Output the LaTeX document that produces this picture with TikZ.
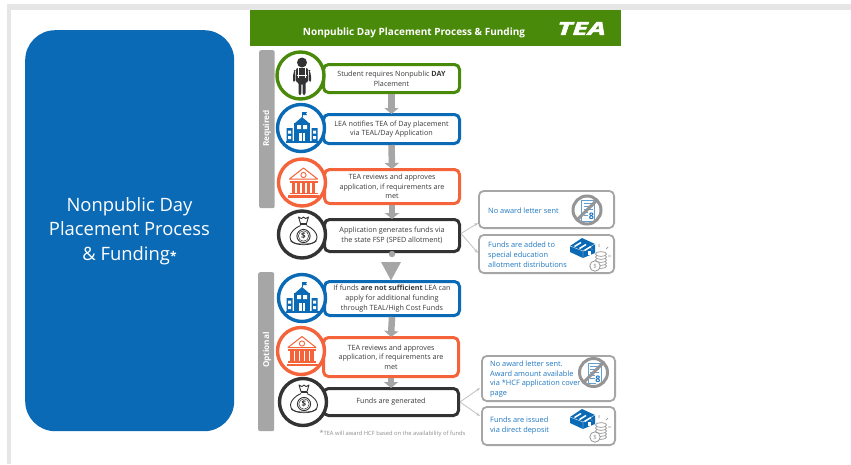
\documentclass[tikz,border=0pt]{standalone}
\usepackage{fontspec}
\setmainfont{Open Sans}
\newfontfamily\logofont[BoldItalicFeatures={FakeBold=2}]{Open Sans}
\usetikzlibrary{calc,arrows.meta}
\definecolor{cgreen}{HTML}{4A8A0B}
\definecolor{cblue}{HTML}{0B6AB6}
\definecolor{corange}{HTML}{F4633A}
\definecolor{cblack}{HTML}{333333}
\definecolor{cgray}{HTML}{A6A6A6}
\definecolor{cdark}{HTML}{959595}
\definecolor{ctext}{HTML}{3A3A3A}
\definecolor{cside}{HTML}{1F78C1}
\definecolor{cstrip}{HTML}{E6E6E6}
\tikzset{
  stepbox/.style={draw=#1,line width=3pt,fill=white,rounded corners=5pt,inner sep=0pt,anchor=north west,
    text=ctext,font=\fontsize{7.2}{9.7}\selectfont,align=center},
  ring/.style={draw=#1,line width=3.4pt,fill=white,circle,minimum size=47pt,inner sep=0pt},
  sidebox/.style={draw=cgray,line width=1.8pt,fill=white,rounded corners=5pt,inner sep=0pt,anchor=north west},
  sidetext/.style={text=cside,font=\fontsize{7.4}{9.8}\selectfont,align=left,anchor=west,inner sep=0pt},
  bar/.style={fill=cgray,rounded corners=2pt,inner sep=0pt,anchor=north west},
  vlabel/.style={text=white,font=\bfseries\fontsize{8.2}{10}\selectfont,rotate=90,inner sep=0pt},
  flow/.style={draw=cgray,line width=6.5pt,-{Triangle[length=6pt,width=14pt]},shorten >=-1pt},
  fork/.style={draw=cgray!70,line width=.8pt,-{Stealth[length=4pt,width=3pt]}}
}
\newcommand{\iconperson}[1]{\begin{scope}[shift={#1}]
 \fill[cblack] (0,-13.5) circle (5);
 \fill[cblack,rounded corners=2pt] (-6,-8) -- (6,-8) -- (6.5,6) -- (3.5,6) -- (3.5,19) -- (.6,19) -- (.6,7) -- (-.6,7) -- (-.6,19) -- (-3.5,19) -- (-3.5,6) -- (-6.5,6) -- cycle;
 \fill[cblack,rounded corners=1.5pt] (-7.5,-6) -- (-9,-1) -- (-9,6) -- (-7,6) -- (-7,-6) -- cycle;
 \fill[cblack,rounded corners=1.5pt] (7.5,-6) -- (9,-1) -- (9,6) -- (7,6) -- (7,-6) -- cycle;
 \draw[white,line width=.6pt] (-3.5,-8) -- (-3.5,2) (3.5,-8) -- (3.5,2) (-5,-1) -- (5,-1);
\end{scope}}
\newcommand{\iconschool}[1]{\begin{scope}[shift={#1}]
 \draw[cblue,line width=.9pt] (0,-16) -- (0,-11);
 \fill[cblue] (0,-16) -- (5,-16) -- (4,-14.5) -- (5,-13) -- (0,-13) -- cycle;
 \fill[cblue] (-7,-5) -- (0,-11) -- (7,-5) -- cycle;
 \fill[cblue] (-8,-5) rectangle (8,13);
 \fill[white] (-3,5) rectangle (3,13);
 \fill[white] (-5,-3) rectangle (-1,1) (1,-3) rectangle (5,1);
 \fill[cblue] (-.5,5) rectangle (.5,13);
 \fill[cblue] (-15.5,0) rectangle (-9.5,13) (9.5,0) rectangle (15.5,13);
 \fill[white] (-14,2.5) rectangle (-11,5.5) (-14,8) rectangle (-11,11) (11,2.5) rectangle (14,5.5) (11,8) rectangle (14,11);
 \fill[cblue] (-16.5,13) rectangle (16.5,14.5);
\end{scope}}
\newcommand{\iconbank}[1]{\begin{scope}[shift={#1}]
 \draw[corange,line width=1pt,line join=round] (-14,-3.5) -- (0,-14.5) -- (14,-3.5) -- cycle;
 \draw[corange,line width=.9pt] (0,-7.5) circle (2.6);
 \fill[corange] (-14,-2) rectangle (14,0);
 \foreach \cx in {-10.5,-5.5,-.5,4.5,9.5}{\fill[corange] (\cx-1.1,0) rectangle (\cx+2.1,10);}
 \fill[corange] (-14,10) rectangle (14,11.5);
 \fill[corange] (-15.5,12.5) rectangle (15.5,15);
\end{scope}}
\newcommand{\iconbag}[1]{\begin{scope}[shift={#1}]
 \draw[cblack,line width=.9pt,line join=round] (-5,-18) -- (-2,-16.5) -- (0,-18) -- (2,-16.5) -- (5,-18) -- (3,-11.5) -- (-3,-11.5) -- cycle;
 \draw[cblack,line width=1.2pt] (-3.5,-10.5) -- (3.5,-10.5);
 \draw[cblack,line width=.9pt] (-3,-9.5) .. controls (-16,-4) and (-18,9) .. (-3,9) -- (3,9) .. controls (18,9) and (16,-4) .. (3,-9.5);
 \draw[cblack,line width=.7pt] (-13,6) .. controls (-7,11) and (7,11) .. (13,6);
 \draw[cblack,line width=.9pt] (0,1) circle (6.6);
 \draw[cblack,line width=.5pt] (0,1) circle (5.2);
 \node[text=cblack,font=\bfseries\fontsize{8}{8}\selectfont,inner sep=0pt] at (0,1) {\$};
\end{scope}}
\newcommand{\iconletter}[1]{\begin{scope}[shift={#1}]
 \draw[cside!70,line width=.9pt,fill=white] (-5.5,-9.5) rectangle (7.5,11);
 \draw[cside!70,line width=.8pt] (-3.5,-6.5) -- (5.5,-6.5) (-3.5,-3.5) -- (5.5,-3.5) (-3.5,-.5) -- (5.5,-.5) (-3.5,2.5) -- (1,2.5) (-3.5,5.5) -- (1,5.5);
 \fill[white] (2,2) rectangle (7,11);
 \node[text=cside,font=\bfseries\fontsize{9}{9}\selectfont,inner sep=0pt] at (4.5,6.5) {8};
 \draw[cdark,line width=3pt] (0,0) circle (14);
 \draw[cdark,line width=3pt] (-9.9,9.9) -- (9.9,-9.9);
\end{scope}}
\newcommand{\iconcash}[1]{\begin{scope}[shift={#1}]
 \fill[cblue] (-19,-7) -- (-7,-15) -- (6,-9) -- (6,0) -- (-6,5) -- (-19,-1) -- cycle;
 \draw[white,line width=.35pt] (-19,-7) -- (-6,-2) -- (6,-9) (-6,-2) -- (-6,5);
 \foreach \dx in {0,5,10}{\draw[white,line width=1.5pt] (-14.5+\dx,-6.5+.4*\dx) -- (-8+\dx,-10.5+.4*\dx);}
 \fill[white] (-1,-2.5) rectangle (2,2);
 \draw[cdark,line width=.7pt] (10,-9) -- (10,-6) (2,-4.5) -- (3.5,-3) (19,-6) -- (17,-4) (22,3) -- (19,3);
 \foreach \yy in {13,10,7,4,1}{\draw[cdark,line width=.7pt,fill=white] (12,\yy) ellipse (5.5 and 2.4);}
 \draw[cdark,line width=.8pt,fill=white] (6,13) circle (5.2);
 \node[text=cdark,font=\fontsize{6}{6}\selectfont,inner sep=0pt] at (6,13) {\$};
\end{scope}}
\begin{document}
\begin{tikzpicture}[x=1pt,y=-1pt]
\useasboundingbox (0,0) rectangle (851,464);
\fill[white] (0,0) rectangle (851,464);
\fill[cstrip] (7,4) rectangle (851,9.5);
\fill[cstrip] (7,4) rectangle (11,464);

\node[fill=cblue,rounded corners=30pt,minimum width=209pt,minimum height=401pt,inner sep=0pt,anchor=north west] (panel) at (25,30) {};
\node[text=white,font=\fontsize{18.4}{24.5}\selectfont,align=center,inner sep=0pt] (paneltext) at (129.5,231) {Nonpublic Day\\Placement Process\\\& Funding{\fontsize{12}{12}\bfseries\selectfont *}};

\node[fill=cgreen,minimum width=370.5pt,minimum height=35.5pt,inner sep=0pt,anchor=north west] (header) at (250,10) {};
\node[text=white,font=\bfseries\fontsize{10}{10}\selectfont,inner sep=0pt] (title) at (414,32.5) {Nonpublic Day Placement Process \& Funding};
\node[text=white,inner sep=0pt,font=\logofont\bfseries\itshape\fontsize{18}{18}\selectfont] (logo) at (581.5,28.5) {\scalebox{1.58}[1]{TEA}};

\node[bar,minimum width=15.5pt,minimum height=158pt] (reqbar) at (259,50) {};
\node[vlabel] (reqlabel) at (267,128.5) {Required};
\node[bar,minimum width=16pt,minimum height=159pt] (optbar) at (258,272) {};
\node[vlabel] (optlabel) at (267,350) {Optional};

% steps
\node[stepbox=cgreen,minimum width=136pt,minimum height=28pt] (s1) at (322,63) {Student requires Nonpublic \textbf{DAY}\\Placement};
\node[stepbox=cblue,minimum width=136pt,minimum height=29pt] (s2) at (322,113) {LEA notifies TEA of Day placement\\via TEAL/Day Application};
\node[stepbox=corange,minimum width=135pt,minimum height=34pt] (s3) at (323,168) {TEA reviews and approves\\application, if requirements are\\met};
\node[stepbox=cblack,minimum width=135pt,minimum height=32pt] (s4) at (323,218) {Application generates funds via\\the state FSP (SPED allotment)};
\node[stepbox=cblue,minimum width=135pt,minimum height=34pt] (s5) at (323,280) {If funds \textbf{are not sufficient} LEA can\\apply for additional funding\\through TEAL/High Cost Funds};
\node[stepbox=corange,minimum width=135pt,minimum height=39pt] (s6) at (322,336) {TEA reviews and approves\\application, if requirements are\\met};
\node[stepbox=cblack,minimum width=135pt,minimum height=27pt] (s7) at (322,387) {\raisebox{-1.5pt}{Funds are generated}};

% arrows
\draw[flow] (s1.south) -- (s2.north);
\draw[flow] (s2.south) -- (s3.north);
\draw[flow] (s3.south) -- (s4.north);
\draw[flow] (s5.south) -- (s6.north);
\draw[flow] (s6.south) -- (s7.north);
\coordinate (dot) at ($(s4.south)+(0,1)$);
\fill[cgray] (dot) circle (3.2);
\fill[cgray] (381,262) -- (401,262) -- (391,280.5) -- cycle;

% rings
\node[ring=cgreen] (r1) at (300.5,75.5) {};
\node[ring=cblue] (r2) at (301,128) {};
\node[ring=corange] (r3) at (302,182.5) {};
\node[ring=cblack] (r4) at (302,234.5) {};
\node[ring=cblue] (r5) at (302,298) {};
\node[ring=corange] (r6) at (301,351) {};
\node[ring=cblack] (r7) at (303,402) {};
\iconperson{(302,76)}
\iconschool{(302,128)}
\iconbank{(303.5,182.5)}
\iconbag{(303.5,235)}
\iconschool{(302,298)}
\iconbank{(302,351)}
\iconbag{(304,403)}

% side boxes
\node[sidebox,minimum width=135.2pt,minimum height=37.2pt] (a1) at (478,190) {};
\node[sidebox,minimum width=135.2pt,minimum height=38.2pt] (a2) at (478,234) {};
\node[sidebox,minimum width=133.2pt,minimum height=45.2pt] (b1) at (481,355) {};
\node[sidebox,minimum width=133.2pt,minimum height=38.2pt] (b2) at (481,406) {};
\node[sidetext] (a1t) at (488,210.5) {No award letter sent};
\node[sidetext] (a2t) at (488,254.5) {Funds are added to\\special education\\allotment distributions};
\node[sidetext] (b1t) at (490,379) {No award letter sent.\\Award amount available\\via *HCF application cover\\page};
\node[sidetext] (b2t) at (490,425.5) {Funds are issued\\via direct deposit};
\iconletter{(587,210)}
\iconcash{(589,253)}
\iconletter{(593.5,372.5)}
\iconcash{(589,424)}

% forks
\coordinate (a1in) at (478,223);
\coordinate (a2in) at (478,253);
\coordinate (b1in) at (480,388);
\coordinate (b2in) at (480,416);
\draw[fork] (s4.east) ++(0,-2) -- (a1in);
\draw[fork] (s4.east) ++(0,-2) -- (a2in);
\draw[fork] (s7.east) -- (b1in);
\draw[fork] (s7.east) -- (b2in);

\node[text=cgray!85!black,font=\fontsize{5.8}{6}\selectfont,inner sep=0pt,anchor=west] (foot) at (319.5,433.5) {{\fontsize{7}{7}\selectfont\raisebox{.5pt}{*}}TEA will award HCF based on the availability of funds};
\end{tikzpicture}
\end{document}
